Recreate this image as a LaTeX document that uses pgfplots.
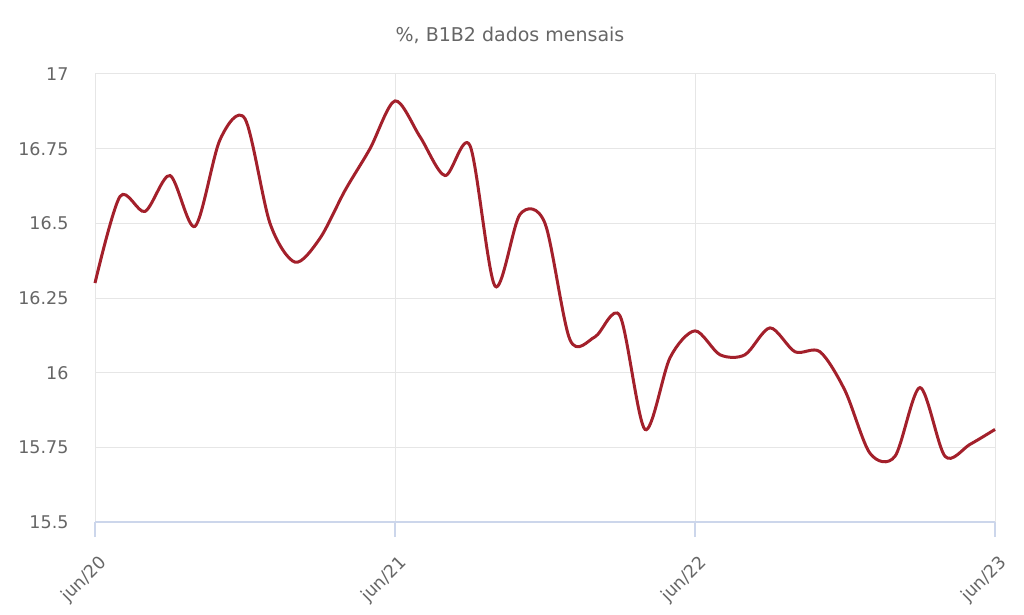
\documentclass[border=0pt]{standalone}
\usepackage{fontspec}
\setmainfont{DejaVu Sans}
\usepackage{pgfplots}
\pgfplotsset{compat=1.18}
\definecolor{linecol}{HTML}{A3202B}
\definecolor{gridcol}{HTML}{E6E6E6}
\definecolor{axiscol}{HTML}{CCD6EB}
\definecolor{textcol}{HTML}{666666}
\begin{document}
\begin{tikzpicture}[x=1pt,y=1pt]
\useasboundingbox (0,0) rectangle (1024,614);
\node[text=textcol, font=\fontsize{19}{23}\selectfont] at (510,579) {\%, B1B2 dados mensais};
\begin{axis}[
  at={(95pt,92pt)}, anchor=south west,
  scale only axis, width=900pt, height=448pt,
  xmin=0, xmax=36, ymin=15.5, ymax=17,
  xtick={0,12,24,36},
  xticklabels={jun/20,jun/21,jun/22,jun/23},
  ytick={15.5,15.75,16,16.25,16.5,16.75,17},
  yticklabels={15.5,15.75,16,16.25,16.5,16.75,17},
  grid=major,
  major grid style={draw=gridcol, line width=1pt},
  axis line style={draw=none},
  xtick pos=left, ytick pos=left,
  tick align=outside,
  major tick length=15pt,
  x tick style={draw=axiscol, line width=1.2pt},
  y tick style={draw=none},
  ticklabel style={text=textcol, font=\fontsize{17.5}{21}\selectfont},
  yticklabel style={anchor=east, xshift=-8pt},
  xticklabel style={anchor=east, inner sep=1pt, xshift=10pt, yshift=-22pt, rotate=45},
  /pgf/number format/assume math mode=true,
  clip=false,
]
\draw[axiscol, line width=1.2pt] (rel axis cs:0,0) -- (rel axis cs:1,0);
\addplot[linecol, line width=3pt, smooth, tension=0.5] coordinates {
(0,16.30) (1,16.59) (2,16.54) (3,16.66) (4,16.49) (5,16.78) (6,16.85)
(7,16.50) (8,16.37) (9,16.45) (10,16.61) (11,16.75) (12,16.91)
(13,16.79) (14,16.66) (15,16.76) (16,16.29) (17,16.53) (18,16.50)
(19,16.11) (20,16.12) (21,16.19) (22,15.81) (23,16.05) (24,16.14)
(25,16.06) (26,16.06) (27,16.15) (28,16.07) (29,16.07) (30,15.94)
(31,15.73) (32,15.72) (33,15.95) (34,15.72) (35,15.76) (36,15.81)
};
\end{axis}
\end{tikzpicture}
\end{document}
